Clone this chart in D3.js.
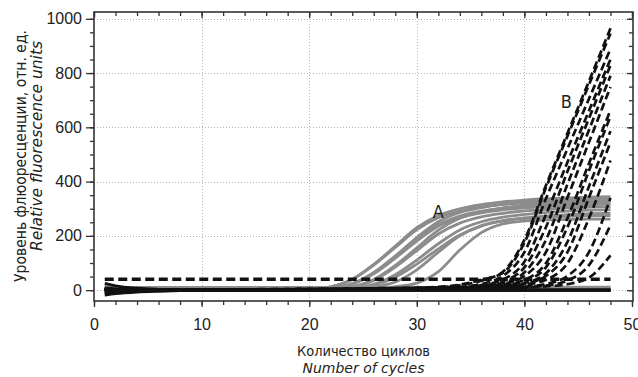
<!DOCTYPE html>
<html>
<head>
<meta charset="utf-8">
<script src="https://cdn.jsdelivr.net/npm/d3@7"></script>
<style>
  html, body { margin: 0; padding: 0; background: #fff; }
  svg { display: block; font-family: "Liberation Sans Narrow", "Arial Narrow", "DejaVu Sans Condensed", sans-serif; }
</style>
</head>
<body>
<svg id="chart" width="638" height="377"></svg>
<script>
// PCR cycle numbers at which fluorescence was sampled
const cycles = [1, 2, 4, 6, 8, 10, 12, 14, 16, 18, 20, 22, 24, 26, 28, 30, 32, 34, 36, 38, 40, 42, 44, 46, 48];

// Group A: sigmoid amplification curves (grey, solid)
const seriesA = [
  [6, 4, 2, 1, 1, 1, 1, 1, 2, 2, 3, 12, 40, 95, 162, 230, 275, 300, 315, 325, 332, 337, 340, 343, 345],
  [-4, -2, 0, 1, 1, 1, 1, 1, 1, 2, 3, 12, 39, 92, 157, 223, 267, 291, 306, 316, 322, 327, 330, 333, 335],
  [10, 6, 3, 2, 1, 1, 1, 1, 1, 1, 2, 7, 24, 65, 126, 194, 252, 286, 304, 316, 324, 330, 334, 337, 339],
  [2, 1, 1, 1, 1, 0, 1, 1, 1, 1, 2, 7, 23, 62, 120, 185, 241, 273, 291, 302, 310, 315, 319, 322, 324],
  [-8, -5, -2, 0, 0, 1, 1, 1, 1, 1, 2, 6, 22, 60, 118, 181, 235, 267, 285, 296, 303, 308, 312, 315, 317],
  [4, 3, 2, 1, 1, 1, 1, 1, 1, 1, 1, 3, 12, 39, 91, 156, 221, 265, 289, 303, 313, 319, 324, 327, 330],
  [14, 9, 4, 2, 1, 1, 1, 1, 1, 1, 1, 3, 11, 36, 85, 146, 207, 247, 270, 283, 292, 298, 303, 306, 308],
  [0, 0, 1, 1, 1, 1, 1, 1, 1, 1, 1, 2, 6, 21, 57, 111, 171, 222, 252, 269, 279, 286, 291, 295, 297],
  [-3, -1, 0, 1, 1, 1, 1, 1, 1, 1, 1, 2, 6, 18, 48, 96, 152, 203, 236, 255, 266, 273, 278, 282, 284],
  [5, 3, 2, 1, 1, 1, 1, 1, 1, 1, 1, 2, 4, 7, 13, 26, 68, 148, 212, 244, 255, 259, 261, 262, 262],
  [8, 5, 3, 2, 1, 1, 1, 1, 1, 1, 1, 2, 5, 12, 30, 75, 140, 200, 238, 256, 264, 269, 272, 274, 275],
  [12, 11, 10, 10, 10, 10, 10, 10, 10, 10, 10, 10, 10, 10, 10, 10, 10, 10, 11, 11, 11, 11, 11, 11, 11],
  [3, 5, 7, 7, 7, 7, 7, 7, 7, 7, 7, 7, 7, 7, 7, 8, 8, 8, 8, 8, 8, 8, 8, 8, 8]
];

// Negative controls (black, solid)
const seriesNeg = [
  [25, 16, 7, 3, 1, 0, 0, 0, 0, 0, 0, 0, 0, 0, 0, 0, 0, 0, 0, 0, 0, 0, 0, 0, 0],
  [-12, -8, -4, -2, -1, 0, 0, 0, 0, 0, 0, 0, 0, 0, 0, 0, 0, 0, 0, 0, 0, 0, 0, 0, 0],
  [-18, -13, -7, -4, -2, -1, 0, 0, 0, 0, 0, 0, 0, 0, 0, 0, 0, 0, 0, 0, 0, 0, 0, 0, 0],
  [-6, -4, -2, -1, 0, 0, 0, 0, 0, 0, 0, 0, 0, 0, 0, 0, 0, 0, 0, 0, 0, 0, 0, 0, 0],
  [8, 5, 3, 1, 0, 0, 0, 0, 0, 0, 0, 0, 0, 0, 0, 0, 0, 0, 0, 0, 0, 0, 0, 0, 0]
];

// Group B: late amplification curves (black, dashed)
const seriesB = [
  [3, 2, 2, 2, 2, 2, 3, 3, 3, 4, 4, 5, 5, 6, 7, 8, 11, 18, 35, 68, 185, 386, 578, 770, 965],
  [2, 2, 2, 2, 2, 3, 3, 3, 4, 4, 5, 5, 6, 7, 8, 9, 12, 20, 38, 64, 175, 377, 567, 757, 946],
  [2, 2, 1, 2, 2, 2, 2, 3, 3, 3, 4, 4, 5, 6, 7, 8, 9, 12, 23, 52, 140, 337, 521, 705, 889],
  [1, 1, 1, 1, 2, 2, 2, 2, 3, 3, 3, 4, 4, 5, 5, 6, 8, 10, 19, 39, 105, 278, 471, 661, 851],
  [2, 2, 2, 2, 2, 2, 3, 3, 3, 3, 4, 4, 5, 5, 6, 7, 9, 9, 17, 33, 84, 232, 437, 633, 829],
  [1, 1, 1, 1, 1, 2, 2, 2, 2, 3, 3, 3, 4, 4, 4, 5, 7, 8, 15, 27, 65, 185, 390, 590, 790],
  [2, 2, 2, 2, 2, 2, 2, 3, 3, 3, 3, 4, 4, 5, 5, 6, 8, 9, 12, 23, 52, 140, 341, 545, 749],
  [1, 1, 1, 1, 1, 1, 2, 2, 2, 2, 3, 3, 3, 4, 4, 5, 6, 8, 9, 19, 38, 99, 265, 467, 663],
  [1, 1, 1, 1, 1, 1, 1, 2, 2, 2, 2, 3, 3, 3, 4, 4, 6, 7, 8, 17, 33, 84, 232, 440, 640],
  [1, 1, 1, 1, 1, 1, 1, 1, 2, 2, 2, 2, 3, 3, 3, 4, 5, 7, 9, 14, 26, 62, 178, 382, 586],
  [1, 1, 1, 1, 1, 1, 1, 1, 1, 2, 2, 2, 3, 3, 4, 5, 6, 7, 8, 12, 23, 52, 140, 341, 545],
  [1, 1, 1, 1, 1, 1, 1, 1, 1, 1, 2, 2, 2, 2, 3, 3, 4, 6, 8, 12, 19, 38, 99, 265, 478],
  [1, 1, 1, 1, 1, 1, 1, 1, 1, 1, 1, 2, 2, 2, 3, 4, 5, 6, 7, 9, 12, 23, 52, 140, 340],
  [1, 1, 1, 1, 1, 1, 1, 1, 1, 1, 1, 1, 2, 2, 2, 3, 4, 5, 6, 8, 11, 17, 35, 92, 240],
  [1, 1, 1, 1, 1, 1, 1, 1, 1, 1, 1, 1, 1, 2, 2, 3, 4, 5, 6, 7, 9, 14, 22, 46, 128]
];

// Detection threshold
const thresholdCycles = [1, 48];
const thresholdValue = 40;

// Axis ticks
const xTicks = [0, 10, 20, 30, 40, 50];
const yTicks = [0, 200, 400, 600, 800, 1000];
const xMinor = d3.range(0, 51, 2);
const yMinor = d3.range(0, 1001, 50);

const xTitle = ["Количество циклов", "Number of cycles"];
const yTitle = ["Уровень флюоресценции, отн. ед.", "Relative fluorescence units"];
const labels = [{ text: "A", cycle: 32.0, value: 292 }, { text: "B", cycle: 43.9, value: 697 }];

const svg = d3.select("#chart");
const x = d3.scaleLinear().domain([0, 50]).range([94, 632]);
const y = d3.scaleLinear().domain([-40, 1025]).range([301, 12]);
const frameL = 94, frameR = 633, frameT = 12, frameB = 301;

// grid
const grid = svg.append("g").attr("stroke", "#b4b4b4").attr("stroke-width", 1).attr("stroke-dasharray", "1,2");
grid.selectAll("line.v").data(xTicks.filter(d => d > 0 && d < 50)).join("line")
  .attr("x1", d => Math.round(x(d)) + 0.5).attr("x2", d => Math.round(x(d)) + 0.5)
  .attr("y1", frameT).attr("y2", frameB);
grid.selectAll("line.h").data(yTicks).join("line")
  .attr("y1", d => Math.round(y(d)) + 0.5).attr("y2", d => Math.round(y(d)) + 0.5)
  .attr("x1", frameL).attr("x2", frameR);

const line = d3.line()
  .x((d, i) => x(cycles[i]))
  .y(d => y(d))
  .curve(d3.curveMonotoneX);

const plot = svg.append("g").attr("fill", "none").attr("stroke-linejoin", "round");

plot.selectAll("path.a").data(seriesA).join("path")
  .attr("d", line).attr("stroke", "#8c8c8c").attr("stroke-width", 2.8);

plot.selectAll("path.n").data(seriesNeg).join("path")
  .attr("d", line).attr("stroke", "#111").attr("stroke-width", 2.8);

plot.append("path")
  .attr("d", d3.line().x(d => x(d)).y(() => y(thresholdValue))(thresholdCycles))
  .attr("stroke", "#111").attr("stroke-width", 3.6).attr("stroke-dasharray", "9,4.5");

plot.selectAll("path.b").data(seriesB).join("path")
  .attr("d", line).attr("stroke", "#111").attr("stroke-width", 2.7)
  .attr("stroke-dasharray", "8,4").attr("stroke-dashoffset", (d, i) => i * 3);

// frame
svg.append("rect").attr("x", frameL).attr("y", frameT).attr("width", frameR - frameL).attr("height", frameB - frameT)
  .attr("fill", "none").attr("stroke", "#333").attr("stroke-width", 1.6);

const tickStyle = g => {
  g.select(".domain").remove();
  g.selectAll("line").attr("stroke", "#333").attr("stroke-width", 1.3);
  g.selectAll("text").attr("font-size", 16).attr("fill", "#222").attr("font-family", null);
};

// bottom & left (outward ticks, labelled)
svg.append("g").attr("transform", `translate(0,${frameB})`)
  .call(d3.axisBottom(x).tickValues(xMinor).tickSize(4).tickFormat("")).call(tickStyle);
svg.append("g").attr("transform", `translate(0,${frameB})`)
  .call(d3.axisBottom(x).tickValues(xTicks).tickSize(6).tickPadding(12).tickFormat(d3.format("d"))).call(tickStyle);
svg.append("g").attr("transform", `translate(${frameL},0)`)
  .call(d3.axisLeft(y).tickValues(yMinor).tickSize(4).tickFormat("")).call(tickStyle);
svg.append("g").attr("transform", `translate(${frameL},0)`)
  .call(d3.axisLeft(y).tickValues(yTicks).tickSize(8).tickPadding(4).tickFormat(d3.format("d"))).call(tickStyle);

// top & right (inward ticks)
svg.append("g").attr("transform", `translate(0,${frameT})`)
  .call(d3.axisTop(x).tickValues(xMinor).tickSize(-4).tickFormat("")).call(tickStyle);
svg.append("g").attr("transform", `translate(0,${frameT})`)
  .call(d3.axisTop(x).tickValues(xTicks).tickSize(-6).tickFormat("")).call(tickStyle);
svg.append("g").attr("transform", `translate(${frameR},0)`)
  .call(d3.axisRight(y).tickValues(yMinor).tickSize(-4).tickFormat("")).call(tickStyle);
svg.append("g").attr("transform", `translate(${frameR},0)`)
  .call(d3.axisRight(y).tickValues(yTicks).tickSize(-6).tickFormat("")).call(tickStyle);

// titles
const cx = (frameL + frameR) / 2;
svg.append("text").attr("x", cx).attr("y", 356).attr("text-anchor", "middle")
  .attr("font-size", 14.5).attr("fill", "#222")
  .attr("textLength", 133).attr("lengthAdjust", "spacingAndGlyphs").text(xTitle[0]);
svg.append("text").attr("x", cx).attr("y", 373).attr("text-anchor", "middle")
  .attr("font-size", 14.5).attr("font-style", "italic").attr("fill", "#222")
  .attr("textLength", 122).attr("lengthAdjust", "spacingAndGlyphs").text(xTitle[1]);

svg.append("text").attr("transform", "translate(26,156) rotate(-90)").attr("text-anchor", "middle")
  .attr("font-size", 15).attr("fill", "#222")
  .attr("textLength", 252).attr("lengthAdjust", "spacingAndGlyphs").text(yTitle[0]);
svg.append("text").attr("transform", "translate(42,146) rotate(-90)").attr("text-anchor", "middle")
  .attr("font-size", 15).attr("font-style", "italic").attr("fill", "#222")
  .attr("textLength", 210).attr("lengthAdjust", "spacingAndGlyphs").text(yTitle[1]);

// group labels
svg.selectAll("text.lbl").data(labels).join("text")
  .attr("x", d => x(d.cycle)).attr("y", d => y(d.value) + 7).attr("text-anchor", "middle")
  .attr("font-size", 18).attr("fill", "#222").text(d => d.text);
</script>
</body>
</html>
